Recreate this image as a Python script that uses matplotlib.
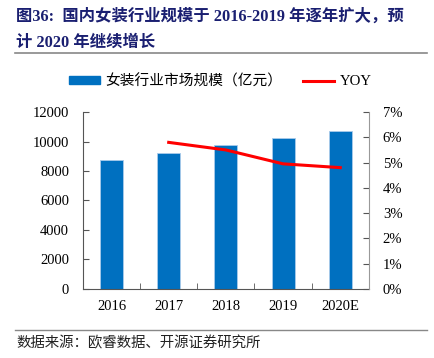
import matplotlib
matplotlib.use("Agg")
import matplotlib.pyplot as plt
from matplotlib.lines import Line2D

years = ["2016", "2017", "2018", "2019", "2020E"]
market = [8750, 9240, 9740, 10220, 10710]   # 亿元
yoy_years = ["2017", "2018", "2019", "2020E"]
yoy = [5.8, 5.5, 4.95, 4.8]                  # %

CN = ["Liberation Serif", "Noto Sans CJK SC"]
plt.rcParams["font.family"] = CN

fig = plt.figure(figsize=(4.34, 3.58), dpi=100)
ax = fig.add_axes([0.191, 0.193, 0.659, 0.494])
x = list(range(len(years)))
ax.bar(x, market, width=0.4, color="#0070C0", edgecolor="#A9CBEA", lw=0.6,
       zorder=2, label="女装行业市场规模（亿元）")
ax.set_xlim(-0.5, len(years) - 0.5)
ax.set_ylim(0, 12000)
ax.set_yticks(range(0, 12001, 2000))
ax.set_xticks(x)
ax.set_xticklabels(years)
ax.set_xticks([i + 0.5 for i in x[:-1]], minor=True)
ax.tick_params(axis="x", which="major", length=0, pad=8, labelsize=10.5)
ax.tick_params(axis="x", which="minor", direction="in", length=4, color="#555555")
ax.tick_params(axis="y", direction="in", length=4, color="#555555", labelsize=10.5, pad=10)
for s in ["left", "bottom"]:
    ax.spines[s].set_color("#555555")
ax.spines["top"].set_visible(False)
ax.spines["right"].set_visible(False)

ax2 = ax.twinx()
xi = [years.index(y) for y in yoy_years]
ax2.plot(xi, yoy, color="#FF0000", lw=2.2, zorder=3, label="YOY")
ax2.set_ylim(0, 7)
ax2.set_yticks(range(0, 8))
ax2.set_yticklabels([f"{v}%" for v in range(0, 8)])
ax2.tick_params(axis="y", direction="in", length=4, color="#555555", labelsize=10.5, pad=10)
ax2.spines["right"].set_color("#999999")
ax2.spines["top"].set_visible(False)
ax2.spines["left"].set_visible(False)
ax2.spines["bottom"].set_visible(False)

handles = [plt.Rectangle((0, 0), 1, 1, color="#0070C0"),
           Line2D([0], [0], color="#FF0000", lw=2.2)]
fig.legend(handles, ["女装行业市场规模（亿元）", "YOY"], loc="center",
           bbox_to_anchor=(0.508, 0.773), ncol=2, frameon=False, fontsize=10.6,
           handlelength=2.1, handleheight=0.5, columnspacing=1.4, handletextpad=0.4)

fig.text(0.037, 0.953, "图36:  国内女装行业规模于 2016-2019 年逐年扩大，预",
         fontsize=11.75, fontweight="bold", color="#1a1f71", va="center")
fig.text(0.037, 0.88, "计 2020 年继续增长",
         fontsize=11.75, fontweight="bold", color="#1a1f71", va="center")
fig.add_artist(Line2D([0.035, 0.984], [0.853, 0.853], color="#888888", lw=1.2))
fig.add_artist(Line2D([0.035, 0.984], [0.078, 0.078], color="#888888", lw=1.0))
fig.text(0.037, 0.042, "数据来源：欧睿数据、开源证券研究所", fontsize=10.4,
         color="#222222", va="center")

fig.savefig("out.png", dpi=100)
